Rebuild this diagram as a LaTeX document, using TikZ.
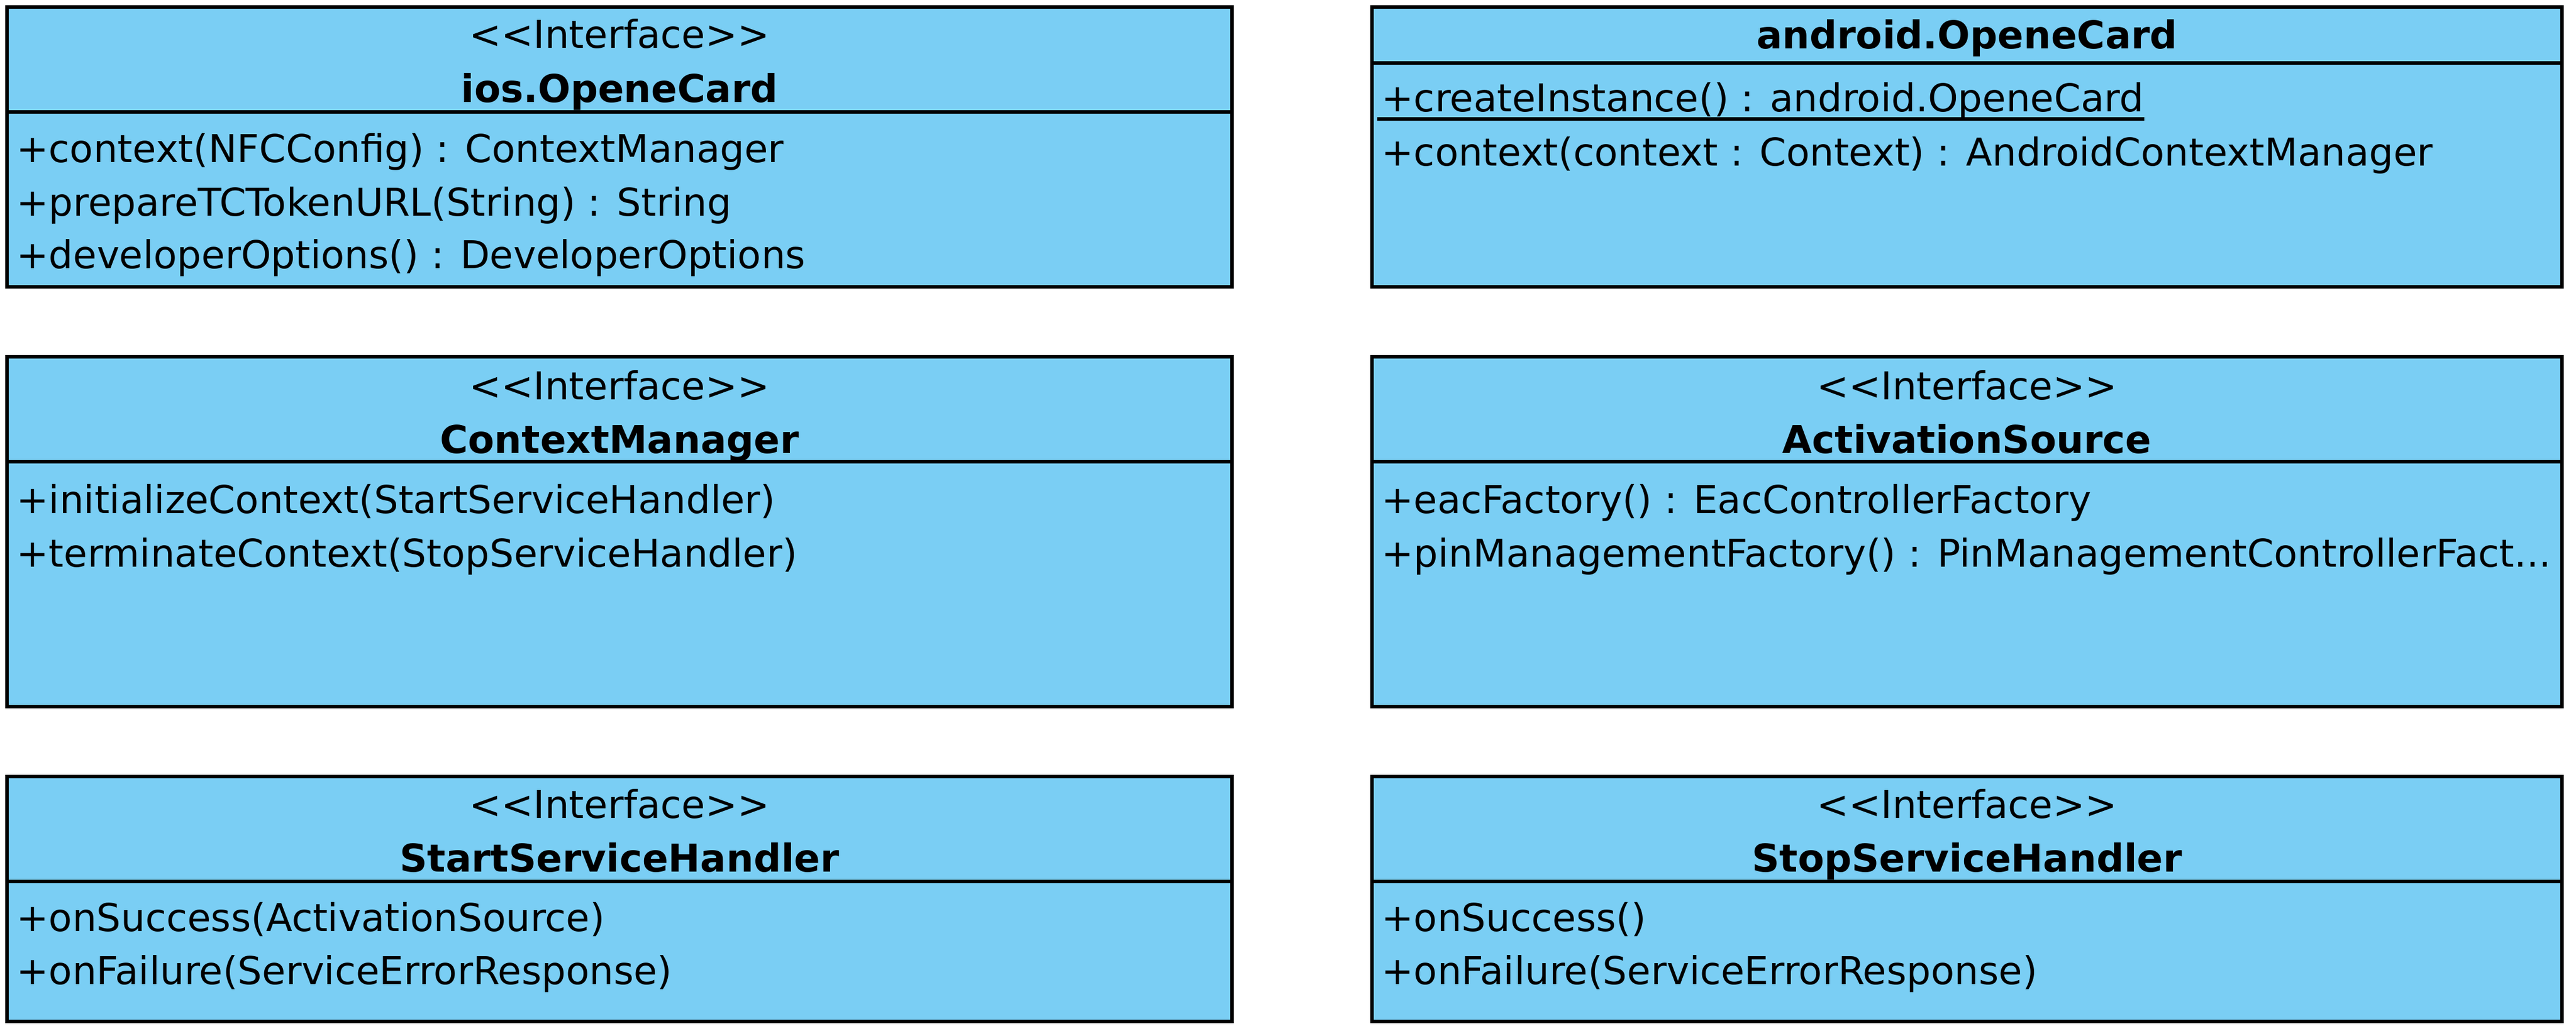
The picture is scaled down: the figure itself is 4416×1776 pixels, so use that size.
\documentclass[tikz,border=0pt]{standalone}
\usepackage{fontspec}
\setmainfont{DejaVu Sans}
\usepackage{tikz}
\usepackage{color}

\definecolor{classblue}{RGB}{122,206,244}
\newcommand{\umlfont}{\fontsize{18.7}{22}\selectfont}
\tikzset{
    classbox/.style={draw=black, fill=classblue, line width=1.7pt},
    divider/.style={draw=black, line width=1.7pt},
    member/.style={anchor=base west, inner sep=0pt, font=\umlfont},
    stereo/.style={anchor=base, inner sep=0pt, font=\umlfont},
    cname/.style={anchor=base, inner sep=0pt, font=\umlfont\bfseries}
}

\begin{document}
\begin{tikzpicture}[x=0.01cm, y=-0.01cm]
        \useasboundingbox (0,0) rectangle (4416,1776);

        % ios.OpeneCard
        \draw[classbox] (12,12) rectangle (2112,492);
        \draw[divider] (12,192) -- (2112,192);
        \node[stereo] (iosStereo) at (1062,83) {<\kern0pt<Interface>\kern0pt>};
        \node[cname] (iosName) at (1062,176) {ios.OpeneCard};
        \node[member] (iosContext) at (28,279) {+context(NFCConfig) : ContextManager};
        \node[member] (iosPrepare) at (28,370) {+prepareTCTokenURL(String) : String};
        \node[member] (iosDevOpts) at (28,461) {+developerOptions() : DeveloperOptions};

        % android.OpeneCard
        \draw[classbox] (2352,12) rectangle (4392,492);
        \draw[divider] (2352,108) -- (4392,108);
        \node[cname] (andName) at (3372,84) {android.OpeneCard};
        \node[member] (andCreate) at (2368,192) {+createInstance() : android.OpeneCard};
        \draw[line width=1.5pt] ([xshift=-0.07cm, yshift=-0.12cm]andCreate.base west) -- ([yshift=-0.12cm]andCreate.base east);
        \node[member] (andContext) at (2368,285) {+context(context : Context) : AndroidContextManager};

        % ContextManager
        \draw[classbox] (12,612) rectangle (2112,1212);
        \draw[divider] (12,792) -- (2112,792);
        \node[stereo] (cmStereo) at (1062,685) {<\kern0pt<Interface>\kern0pt>};
        \node[cname] (cmName) at (1062,777) {ContextManager};
        \node[member] (cmInit) at (28,880) {+initializeContext(StartServiceHandler)};
        \node[member] (cmTerm) at (28,972) {+terminateContext(StopServiceHandler)};

        % ActivationSource
        \draw[classbox] (2352,612) rectangle (4392,1212);
        \draw[divider] (2352,792) -- (4392,792);
        \node[stereo] (asStereo) at (3372,685) {<\kern0pt<Interface>\kern0pt>};
        \node[cname] (asName) at (3372,777) {ActivationSource};
        \node[member] (asEac) at (2368,880) {+eacFactory() : EacControllerFactory};
        \node[member] (asPin) at (2368,972) {+pinManagementFactory() : PinManagementControllerFact...};

        % StartServiceHandler
        \draw[classbox] (12,1332) rectangle (2112,1752);
        \draw[divider] (12,1512) -- (2112,1512);
        \node[stereo] (sshStereo) at (1062,1403) {<\kern0pt<Interface>\kern0pt>};
        \node[cname] (sshName) at (1062,1495) {StartServiceHandler};
        \node[member] (sshSuccess) at (28,1597) {+onSuccess(ActivationSource)};
        \node[member] (sshFailure) at (28,1688) {+onFailure(ServiceErrorResponse)};

        % StopServiceHandler
        \draw[classbox] (2352,1332) rectangle (4392,1752);
        \draw[divider] (2352,1512) -- (4392,1512);
        \node[stereo] (stopStereo) at (3372,1403) {<\kern0pt<Interface>\kern0pt>};
        \node[cname] (stopName) at (3372,1495) {StopServiceHandler};
        \node[member] (stopSuccess) at (2368,1597) {+onSuccess()};
        \node[member] (stopFailure) at (2368,1688) {+onFailure(ServiceErrorResponse)};
    \end{tikzpicture}
\end{document}
